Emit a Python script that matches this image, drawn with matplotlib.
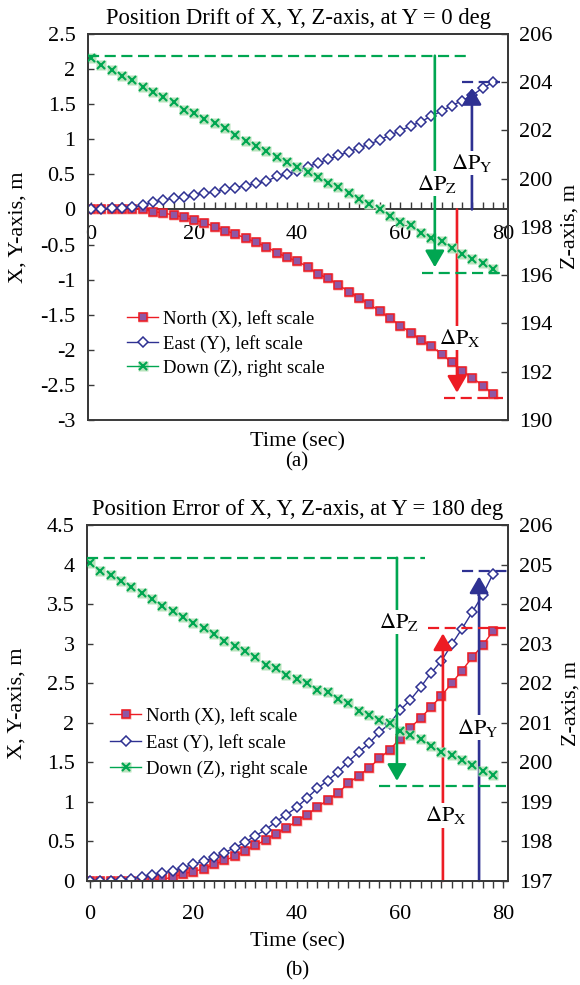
import numpy as np
import matplotlib
matplotlib.use("Agg")
import matplotlib.pyplot as plt
from matplotlib.lines import Line2D
from matplotlib.ticker import MultipleLocator, FuncFormatter
from matplotlib.legend_handler import HandlerTuple

plt.rcParams['font.family'] = ['Liberation Serif', 'DejaVu Serif']
plt.rcParams['mathtext.fontset'] = 'stix'
plt.rcParams['axes.unicode_minus'] = False

# sample times, s
t = np.arange(0, 80, 2)

# (a) heading Y = 0 deg
north_a = [0.01, 0.01, 0.01, 0.01, 0.01, 0.0, -0.03, -0.05, -0.08, -0.11,
           -0.15, -0.19, -0.245, -0.30, -0.35, -0.41, -0.47, -0.53, -0.615, -0.68,
           -0.74, -0.815, -0.92, -0.98, -1.075, -1.17, -1.26, -1.35, -1.45, -1.55,
           -1.655, -1.755, -1.86, -1.95, -2.06, -2.18, -2.30, -2.40, -2.51, -2.63]
east_a = [0.0, 0.0, 0.02, 0.02, 0.03, 0.06, 0.10, 0.135, 0.16, 0.175,
          0.21, 0.23, 0.25, 0.29, 0.31, 0.34, 0.37, 0.40, 0.47, 0.50,
          0.55, 0.61, 0.66, 0.715, 0.77, 0.82, 0.88, 0.93, 0.99, 1.06,
          1.12, 1.19, 1.25, 1.33, 1.40, 1.48, 1.55, 1.63, 1.73, 1.81]
down_a = [204.99, 204.71, 204.51, 204.26, 204.09, 203.79, 203.61, 203.37, 203.17, 202.85,
          202.71, 202.47, 202.30, 202.09, 201.81, 201.58, 201.35, 201.16, 200.91, 200.68,
          200.49, 200.29, 200.08, 199.83, 199.66, 199.41, 199.15, 198.95, 198.73, 198.45,
          198.21, 198.07, 197.76, 197.56, 197.41, 197.11, 196.90, 196.69, 196.49, 196.24]
# drift reference levels: X end, Y end, Z start, Z end
levels_a = [-2.69, 1.81, 205.1, 196.1]

# (b) heading Y = 180 deg
north_b = [0.0, 0.0, 0.0, 0.0, 0.0, 0.0, 0.01, 0.02, 0.05, 0.09,
           0.12, 0.155, 0.21, 0.26, 0.31, 0.38, 0.45, 0.52, 0.60, 0.67,
           0.76, 0.84, 0.93, 1.03, 1.11, 1.24, 1.33, 1.43, 1.55, 1.66,
           1.80, 1.94, 2.06, 2.20, 2.34, 2.50, 2.66, 2.83, 2.98, 3.16]
east_b = [0.0, 0.0, 0.0, 0.01, 0.03, 0.05, 0.08, 0.10, 0.13, 0.17,
          0.21, 0.25, 0.30, 0.36, 0.42, 0.49, 0.57, 0.65, 0.75, 0.84,
          0.93, 1.05, 1.17, 1.27, 1.38, 1.51, 1.63, 1.74, 1.88, 1.99,
          2.16, 2.29, 2.45, 2.63, 2.78, 2.99, 3.19, 3.40, 3.62, 3.88]
down_b = [205.03, 204.84, 204.74, 204.59, 204.42, 204.29, 204.12, 203.95, 203.83, 203.67,
          203.52, 203.39, 203.25, 203.08, 202.93, 202.81, 202.66, 202.47, 202.38, 202.22,
          202.11, 202.00, 201.83, 201.77, 201.60, 201.51, 201.30, 201.19, 201.06, 201.00,
          200.78, 200.70, 200.58, 200.41, 200.26, 200.18, 200.05, 199.94, 199.79, 199.67]
levels_b = [3.20, 3.92, 205.17, 199.39]

labels = ['North (X), left scale', 'East (Y), left scale', 'Down (Z), right scale']

RED = '#ED1C24'
PINK = '#F6AFAF'
PURPLE = '#8E57A4'
BLUE = '#2E3192'
GREEN = '#00A651'
LGREEN = '#B9E3BC'
SPINE = '#3A3A3A'
DASH = (0, (5, 2.5))

fig = plt.figure(figsize=(5.8, 9.85), dpi=100)


def fmt(v, pos):
    return '%g' % v


def arrow(ax, x, y0, y1, color):
    ax.annotate('', xy=(x, y1), xytext=(x, y0),
                arrowprops=dict(arrowstyle='-|>,head_length=1.0,head_width=0.58',
                                mutation_scale=10, color=color, lw=1.9,
                                shrinkA=0, shrinkB=4))


def dlabel(ax, x, y, txt):
    ax.text(x, y, txt, ha='center', va='center', fontsize=16,
            bbox=dict(facecolor='white', edgecolor='none', pad=1.0), zorder=6)


def panel(rect, north, east, down, ylim, ystep, zlim, zstep, title, spacing):
    ax = fig.add_axes(rect)
    ax2 = ax.twinx()

    h_n0, = ax.plot(t, north, ls='none', marker='s', ms=7.8, mfc=PINK, mec='none', zorder=2)
    h_n1, = ax.plot(t, north, color=RED, lw=1, marker='s', ms=5.2, mfc=PURPLE,
                    mec=RED, mew=1.1, zorder=3)
    h_e, = ax.plot(t, east, color=BLUE, lw=1, marker='D', ms=5.2, mfc='white',
                   mec=BLUE, mew=1.1, zorder=3)
    h_d0, = ax2.plot(t, down, ls='none', marker='s', ms=7.8, mfc=LGREEN, mec='none', zorder=2)
    ax2.plot(t, down, ls='none', color=GREEN, marker='x', ms=5.2, mew=1.5, zorder=3)
    h_d1 = Line2D([], [], color=GREEN, lw=1, marker='x', ms=5.2, mew=1.5)

    ax.set_xlim(-0.6, 80.9)
    ax.set_ylim(*ylim)
    ax2.set_ylim(*zlim)
    ax.yaxis.set_major_locator(MultipleLocator(ystep))
    ax2.yaxis.set_major_locator(MultipleLocator(zstep))
    ax.yaxis.set_major_formatter(FuncFormatter(fmt))
    ax.xaxis.set_major_locator(MultipleLocator(20))
    ax.xaxis.set_minor_locator(MultipleLocator(2))

    for a in (ax, ax2):
        for s in a.spines.values():
            s.set_color(SPINE)
            s.set_linewidth(1.4)
    ax.tick_params(axis='y', direction='in', length=4, width=1, color=SPINE,
                   labelsize=16, pad=9)
    ax2.tick_params(axis='y', direction='in', length=5, width=1, color=SPINE,
                    labelsize=16, pad=8)
    ax.set_title(title, fontsize=16.3, pad=7)

    ax.set_ylabel('X, Y-axis, m', fontsize=16)
    ax2.set_ylabel('Z-axis, m', fontsize=16)

    leg = ax2.legend([(h_n0, h_n1), h_e, (h_d0, h_d1)], labels,
                     handler_map={tuple: HandlerTuple(ndivide=1)},
                     frameon=False, fontsize=13.5, numpoints=1,
                     handlelength=1.65, handletextpad=0.25, labelspacing=spacing,
                     borderpad=0, borderaxespad=0, loc='upper left')
    return ax, ax2, leg


# ---- (a) Y = 0 deg ----
ax, ax2, leg = panel([88 / 580, 1 - 420 / 985, 420 / 580, 386 / 985],
                     north_a, east_a, down_a, (-3, 2.5), 0.5, (190, 206), 2,
                     'Position Drift of X, Y, Z-axis, at Y = 0 deg', 0.36)
ax.yaxis.set_label_coords(-0.145, 0.5)
ax2.yaxis.set_label_coords(1.126, 0.5)
leg.set_bbox_to_anchor((0.093, 0.285), transform=ax.transAxes)
ax.spines['bottom'].set_position(('data', 0))
ax.tick_params(axis='x', which='both', direction='in', length=5, width=1,
               color=SPINE, labelsize=16, pad=11)
ax.text(0.5, -0.057, 'Time (sec)', transform=ax.transAxes, ha='center', va='center',
        fontsize=16)
fig.text(297 / 580, 1 - 462 / 985, '(a)', ha='center', va='center', fontsize=15)

xl, yl, zt, zb = levels_a
ax.plot([68.5, 79.9], [xl, xl], color=RED, lw=1.6, ls=DASH, zorder=4)
ax.plot([72.0, 79.4], [yl, yl], color=BLUE, lw=1.6, ls=DASH, zorder=4)
ax2.plot([-0.6, 73.1], [zt, zt], color=GREEN, lw=1.6, ls=DASH, zorder=4)
ax2.plot([64.2, 79.4], [zb, zb], color=GREEN, lw=1.6, ls=DASH, zorder=4)
arrow(ax, 71.0, 0, xl, RED)
arrow(ax, 73.9, 0, yl, BLUE)
arrow(ax2, 66.7, zt, zb, GREEN)
dlabel(ax, 71.6, -1.83, r'$\Delta\mathrm{P}_{\mathrm{X}}$')
dlabel(ax, 73.9, 0.66, r'$\Delta\mathrm{P}_{\mathrm{Y}}$')
dlabel(ax2, 67.1, 199.8, r'$\Delta\mathrm{P}_{\mathrm{Z}}$')

# ---- (b) Y = 180 deg ----
ax, ax2, leg = panel([87 / 580, 1 - 881 / 985, 421 / 580, 356 / 985],
                     north_b, east_b, down_b, (0, 4.5), 0.5, (197, 206), 1,
                     'Position Error of X, Y, Z-axis, at Y = 180 deg', 0.47)
ax.yaxis.set_label_coords(-0.1425, 0.5)
ax2.yaxis.set_label_coords(1.128, 0.5)
leg.set_bbox_to_anchor((0.055, 0.489), transform=ax.transAxes)
ax.tick_params(axis='x', which='both', direction='out', length=5, width=1,
               color=SPINE, labelsize=16, pad=12)
ax.set_xlabel('Time (sec)', fontsize=16, labelpad=6)
fig.text(297 / 580, 1 - 971 / 985, '(b)', ha='center', va='center', fontsize=15)

xl, yl, zt, zb = levels_b
ax.plot([65.4, 81], [xl, xl], color=RED, lw=1.6, ls=DASH, zorder=4, clip_on=False)
ax.plot([72, 81], [yl, yl], color=BLUE, lw=1.6, ls=DASH, zorder=4, clip_on=False)
ax2.plot([-0.6, 64.8], [zt, zt], color=GREEN, lw=1.6, ls=DASH, zorder=4)
ax2.plot([56, 80.5], [zb, zb], color=GREEN, lw=1.6, ls=DASH, zorder=4)
arrow(ax, 68.3, 0, xl, RED)
arrow(ax, 75.3, 0, yl, BLUE)
arrow(ax2, 59.4, zt, zb, GREEN)
dlabel(ax, 68.9, 0.83, r'$\Delta\mathrm{P}_{\mathrm{X}}$')
dlabel(ax, 75.1, 1.94, r'$\Delta\mathrm{P}_{\mathrm{Y}}$')
dlabel(ax2, 59.8, 203.55, r'$\Delta\mathrm{P}_{\mathrm{Z}}$')

fig.savefig('out.png', dpi=100)
